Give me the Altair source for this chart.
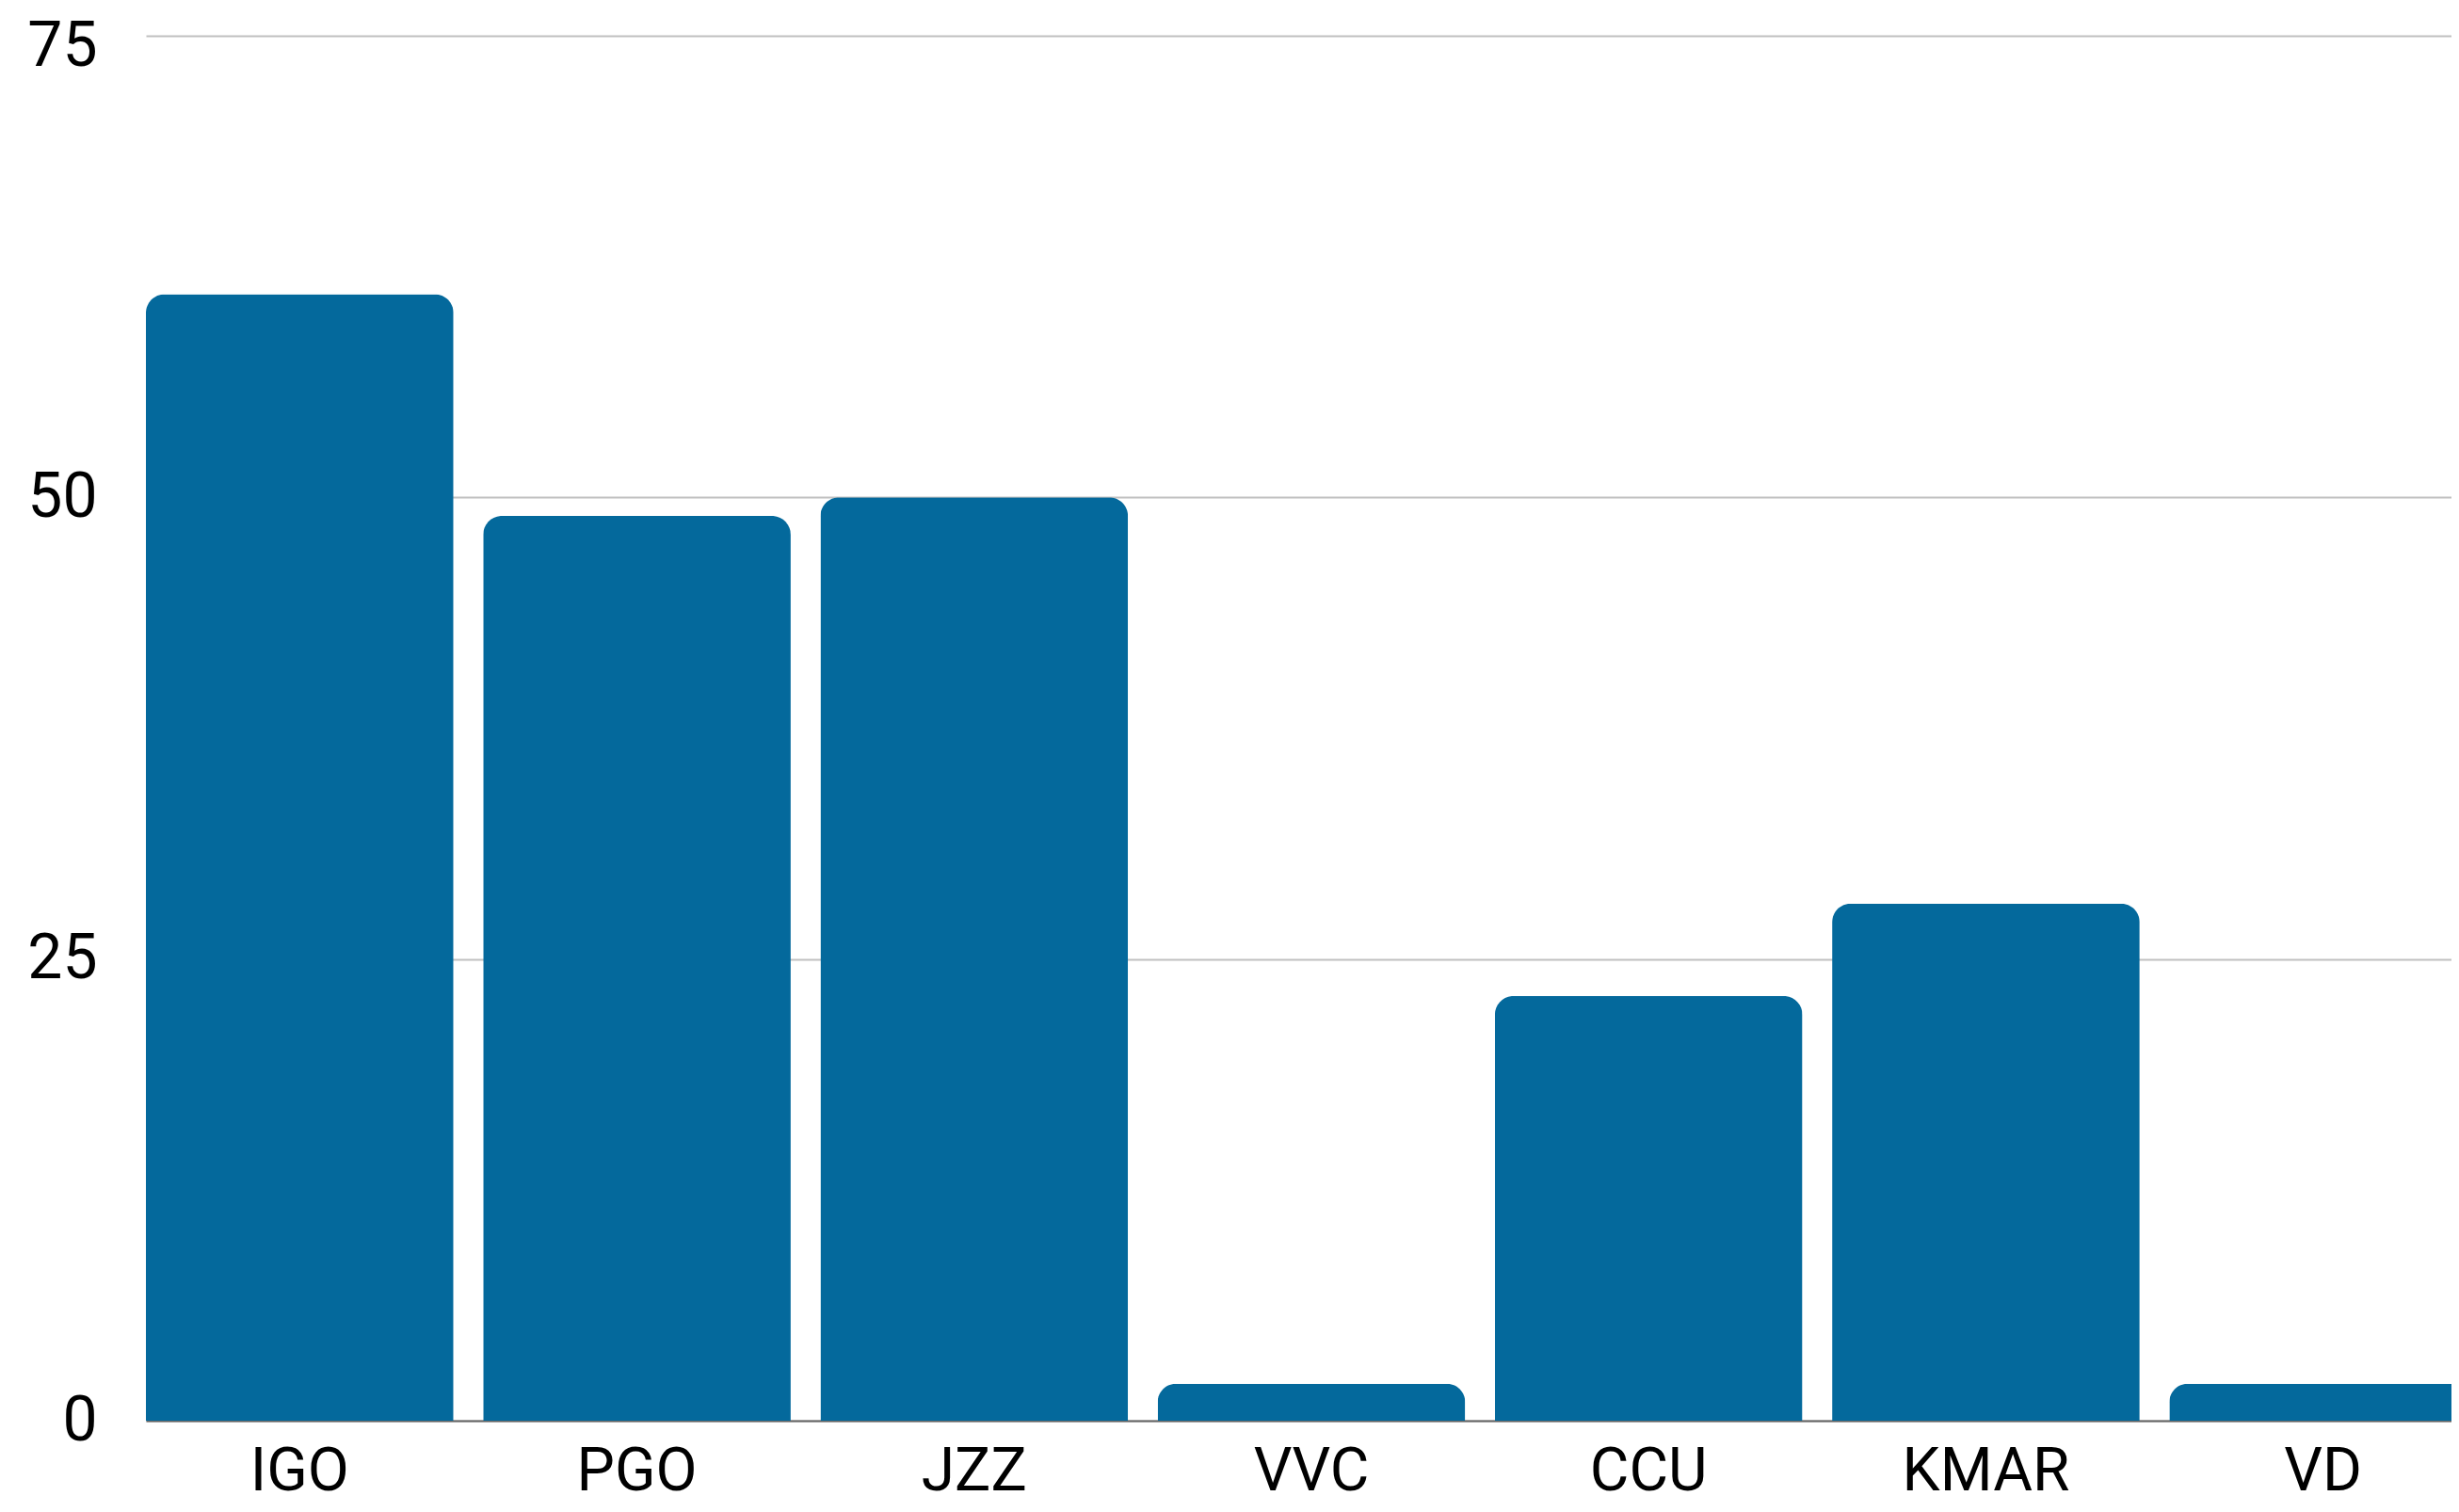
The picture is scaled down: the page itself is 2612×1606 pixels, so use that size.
import altair as alt
import pandas as pd

categories = ["IGO", "PGO", "JZZ", "VVC", "CCU", "KMAR", "VD"]
values = [61, 49, 50, 2, 23, 28, 2]
y_ticks = [0, 25, 50, 75]

df = pd.DataFrame({"category": categories, "value": values})

FONT = "Roboto"

chart = alt.Chart(df).mark_bar(
    color="#04699c",
    cornerRadiusTopLeft=20,
    cornerRadiusTopRight=20,
).encode(
    x=alt.X(
        "category:N",
        sort=categories,
        title=None,
        scale=alt.Scale(paddingInner=0.088, paddingOuter=0, range=[0, 2476]),
        axis=alt.Axis(
            labelAngle=0,
            labelFont=FONT,
            labelFontSize=64,
            labelColor="#000000",
            labelPadding=22,
            labelLimit=0,
            ticks=False,
            tickSize=0,
            domain=True,
            domainColor="#666666",
            domainWidth=2,
            grid=False,
        ),
    ),
    y=alt.Y(
        "value:Q",
        title=None,
        scale=alt.Scale(domain=[0, 75], nice=False),
        axis=alt.Axis(
            values=y_ticks,
            labelFont=FONT,
            labelFontSize=66,
            labelColor="#000000",
            labelPadding=52,
            labelOffset={"condition": {"test": "datum.value == 75", "value": 11}, "value": 0},
            ticks=False,
            tickSize=0,
            domain=False,
            grid=True,
            gridColor="#c0c0c0",
            gridWidth=2,
        ),
    ),
).properties(
    width=2449,
    height=1471,
    autosize=alt.AutoSizeParams(type="none"),
    padding={"left": 147, "top": 30, "right": 0, "bottom": 89},
).configure_view(stroke=None)

chart.save("out.html", embed_options={"renderer": "svg", "actions": False})
